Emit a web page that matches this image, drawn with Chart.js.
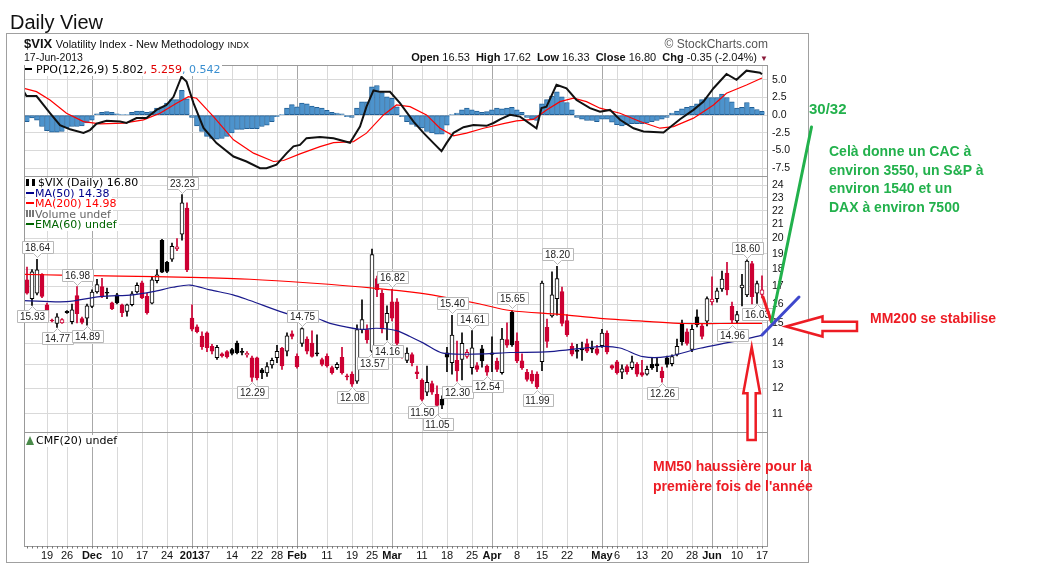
<!DOCTYPE html>
<html><head><meta charset="utf-8">
<script src="https://cdn.jsdelivr.net/npm/chart.js@4.4.1/dist/chart.umd.min.js"></script>
<style>
html,body{margin:0;padding:0;background:#fff;}
#wrap{position:relative;width:1044px;height:575px;overflow:hidden;font-family:"Liberation Sans",Arial,sans-serif;}
canvas{position:absolute;left:0;top:0;}
.t{position:absolute;white-space:nowrap;z-index:5;}
.lg{font-family:"DejaVu Sans",sans-serif;font-size:11px;}
.lg .row{display:block;height:10.5px;line-height:10.5px;}
.lg .bg{background:#fff;display:inline-block;padding-right:2px;}
.dash{display:inline-block;width:8px;height:2px;vertical-align:middle;margin-right:1px;position:relative;top:-1px;}
.ann{position:absolute;white-space:nowrap;font-family:"Liberation Sans",Arial,sans-serif;font-weight:bold;font-size:14px;z-index:6;}
</style></head><body>
<div id="wrap">
<div style="position:absolute;left:6px;top:33px;width:801px;height:528px;border:1px solid #a0a0a0;"></div>
<canvas id="cPPO" width="1044" height="575"></canvas>
<canvas id="cMain" width="1044" height="575"></canvas>
<canvas id="cCMF" width="1044" height="575"></canvas>

<div class="t" style="left:10px;top:10px;font-size:20px;line-height:24px;color:#111;">Daily View</div>
<div class="t" style="left:24px;top:37px;font-size:13px;line-height:14px;color:#111;"><b>$VIX</b> <span style="font-size:11px">Volatility Index - New Methodology</span> <span style="font-size:9px">INDX</span></div>
<div class="t" style="left:24px;top:51px;font-size:10.5px;line-height:12px;color:#111;">17-Jun-2013</div>
<div class="t" style="right:276px;top:37px;font-size:12px;line-height:14px;color:#555;">&copy; StockCharts.com</div>
<div class="t" style="right:276px;top:51px;font-size:11px;line-height:12px;color:#111;"><b>Open</b> 16.53 <b style="margin-left:3px">High</b> 17.62 <b style="margin-left:3px">Low</b> 16.33 <b style="margin-left:3px">Close</b> 16.80 <b style="margin-left:3px">Chg</b> -0.35 (-2.04%) <span style="color:#8b1a3a;font-size:8px;">&#9660;</span></div>

<div class="t lg" style="left:25px;top:64px;line-height:12px;background:#fff;padding-right:2px;"><span class="dash" style="background:#000;width:7px;margin-right:4px;"></span>PPO(12,26,9) 5.802<span style="color:#e00000">, 5.259</span><span style="color:#3a8fd0">, 0.542</span></div>

<div class="t lg" style="left:26px;top:178px;">
 <span class="row"><span class="bg"><span style="display:inline-block;width:9px;height:7px;margin-right:3px;vertical-align:middle;position:relative;top:-1px;background:linear-gradient(90deg,#000 0 3px,transparent 3px 6px,#000 6px 9px);"></span>$VIX (Daily) 16.80</span></span>
 <span class="row"><span class="bg" style="color:#00008b"><span class="dash" style="background:#00008b"></span>MA(50) 14.38</span></span>
 <span class="row"><span class="bg" style="color:#f00"><span class="dash" style="background:#f00"></span>MA(200) 14.98</span></span>
 <span class="row"><span class="bg" style="color:#666"><span style="display:inline-block;width:8px;height:7px;margin-right:1px;vertical-align:middle;position:relative;top:-1px;background:linear-gradient(90deg,#777 0 2px,transparent 2px 3px,#777 3px 5px,transparent 5px 6px,#777 6px 8px);"></span>Volume undef</span></span>
 <span class="row"><span class="bg" style="color:#006400"><span class="dash" style="background:#006400"></span>EMA(60) undef</span></span>
</div>

<div class="t lg" style="left:26px;top:435px;line-height:12px;background:#fff;padding-right:2px;"><span style="display:inline-block;width:0;height:0;border-left:4px solid transparent;border-right:4px solid transparent;border-bottom:9px solid #4a8a4a;margin-right:2px;vertical-align:middle;position:relative;top:-1px;"></span>CMF(20) undef</div>

<div class="ann" style="left:809px;top:100px;font-size:15px;line-height:18px;color:#22b14c;">30/32</div>
<div class="ann" style="left:829px;top:142px;line-height:18.7px;color:#22b14c;">Celà donne un CAC à<br>environ 3550, un S&amp;P à<br>environ 1540 et un<br>DAX à environ 7500</div>
<div class="ann" style="left:870px;top:309px;line-height:18px;color:#ed1c24;">MM200 se stabilise</div>
<div class="ann" style="left:653px;top:456px;line-height:20px;color:#ed1c24;">MM50 haussière pour la<br>première fois de l'année</div>
</div>

<script>
// ---------------- DATA ----------------
const dates = [
'11/13','11/14','11/15','11/16','11/19','11/20','11/21','11/23','11/26','11/27','11/28','11/29','11/30',
'12/03','12/04','12/05','12/06','12/07','12/10','12/11','12/12','12/13','12/14','12/17','12/18','12/19','12/20','12/21','12/24','12/26','12/27','12/28','12/31',
'01/02','01/03','01/04','01/07','01/08','01/09','01/10','01/11','01/14','01/15','01/16','01/17','01/18','01/22','01/23','01/24','01/25','01/28','01/29','01/30','01/31',
'02/01','02/04','02/05','02/06','02/07','02/08','02/11','02/12','02/13','02/14','02/15','02/19','02/20','02/21','02/22','02/25','02/26','02/27','02/28',
'03/01','03/04','03/05','03/06','03/07','03/08','03/11','03/12','03/13','03/14','03/15','03/18','03/19','03/20','03/21','03/22','03/25','03/26','03/27','03/28',
'04/01','04/02','04/03','04/04','04/05','04/08','04/09','04/10','04/11','04/12','04/15','04/16','04/17','04/18','04/19','04/22','04/23','04/24','04/25','04/26','04/29','04/30',
'05/01','05/02','05/03','05/06','05/07','05/08','05/09','05/10','05/13','05/14','05/15','05/16','05/17','05/20','05/21','05/22','05/23','05/24','05/28','05/29','05/30','05/31',
'06/03','06/04','06/05','06/06','06/07','06/10','06/11','06/12','06/13','06/14','06/17'];

const opens = [
17.37,16.30,16.60,17.70,15.96,15.15,14.97,15.00,15.60,15.07,
16.46,15.22,15.25,15.87,16.68,16.98,16.65,16.07,16.51,15.96,
15.60,15.96,16.68,17.20,16.42,16.05,17.32,19.89,18.45,18.64,
19.30,20.30,22.20,15.25,14.80,14.34,14.50,13.85,13.32,13.50,
13.60,13.70,14.00,13.60,13.45,13.32,13.32,12.78,12.65,13.00,
13.32,13.75,13.62,14.45,13.38,13.99,14.20,14.00,13.55,13.24,
13.38,12.88,12.88,13.34,12.52,12.60,12.30,14.66,14.66,13.62,
17.45,16.60,15.00,16.12,16.12,13.55,13.20,13.47,12.70,12.34,
11.84,12.20,11.76,11.56,13.55,13.10,13.20,13.24,13.38,12.88,
12.97,13.73,12.95,13.47,13.17,12.66,14.17,15.55,14.10,13.18,
12.67,12.60,12.60,13.14,14.78,15.36,16.30,16.70,15.12,13.85,
13.65,13.72,13.98,13.75,13.73,13.88,14.49,12.97,13.14,12.68,
12.92,12.88,13.02,12.66,12.60,13.02,13.05,12.73,13.32,13.05,
13.47,14.99,14.55,13.70,15.31,14.85,15.09,16.12,16.30,16.84,
17.78,15.87,15.10,16.90,16.50,18.37,16.60,16.53];
const highs = [
18.15,18.00,18.64,17.75,16.05,15.20,15.48,15.22,15.65,16.00,
16.98,15.30,16.00,16.80,17.40,17.47,16.90,16.10,16.60,16.00,
16.00,16.70,17.20,17.30,16.60,17.58,18.00,19.95,18.50,19.70,
20.00,23.23,22.60,15.96,14.90,14.55,14.55,13.95,13.90,13.55,
13.65,13.75,14.10,13.75,13.60,13.40,13.35,12.85,13.10,13.30,
13.90,13.80,14.50,14.60,13.50,14.75,14.30,14.60,14.40,13.30,
13.50,12.95,13.10,13.80,12.60,12.70,14.90,16.23,14.90,19.30,
17.60,16.80,15.90,16.82,16.30,13.70,13.78,13.55,12.95,12.40,
12.95,12.30,12.10,11.70,13.80,15.40,14.10,14.50,13.70,14.61,
13.10,13.90,13.00,14.30,13.30,14.73,15.00,15.65,14.50,13.50,
12.80,12.75,12.70,17.30,15.20,17.86,18.20,16.95,15.43,14.00,
13.95,14.05,14.20,14.10,13.90,14.68,14.60,13.00,13.20,13.00,
13.00,13.40,13.10,13.20,12.95,13.30,13.30,12.90,13.40,13.45,
14.20,15.15,14.70,14.90,15.69,14.95,16.40,17.55,16.90,17.90,
18.45,16.10,15.60,17.70,18.60,18.50,17.30,17.62];
const lows = [
16.55,15.93,16.50,16.35,15.15,15.05,14.77,14.98,15.50,14.95,
15.00,14.95,14.89,15.80,16.60,16.35,16.30,15.69,16.00,15.32,
15.35,15.90,16.60,16.30,15.45,16.00,17.20,17.80,17.80,18.50,
19.20,19.90,17.86,14.60,14.50,13.70,13.60,13.50,13.25,13.35,
13.30,13.45,13.50,13.45,13.35,12.29,12.35,12.40,12.50,12.85,
13.10,12.80,13.40,14.20,12.85,13.85,13.50,13.35,13.40,12.95,
12.90,12.60,12.80,12.60,12.35,12.08,12.20,14.50,14.00,13.57,
16.40,14.50,14.16,15.10,13.90,13.30,13.10,12.95,12.40,11.50,
11.70,11.75,11.05,11.20,12.70,12.60,12.30,12.35,13.30,12.60,
12.70,12.90,12.54,12.70,12.70,12.60,13.80,13.85,13.10,12.80,
12.30,12.20,11.99,12.75,13.80,15.30,15.40,14.85,14.33,13.40,
13.30,13.20,13.55,13.55,13.45,13.80,13.50,12.80,12.60,12.40,
12.60,12.80,12.50,12.50,12.55,12.80,12.70,12.26,12.90,12.95,
13.40,13.90,13.90,13.60,14.80,14.20,14.85,15.95,16.10,16.70,
16.50,14.96,15.00,15.90,16.40,16.00,16.03,16.33];
const closes = [
16.60,17.86,17.98,16.42,15.25,15.10,15.32,15.17,15.53,15.69,
15.48,15.03,15.90,16.66,17.10,16.40,16.60,15.75,16.06,15.54,
15.96,16.56,17.05,16.34,15.53,17.37,17.68,17.84,17.88,19.48,
19.45,22.60,17.98,14.68,14.56,13.83,13.79,13.62,13.80,13.40,
13.36,13.52,13.55,13.57,13.52,12.46,12.43,12.66,12.92,13.20,
13.62,12.95,14.36,14.32,12.92,14.71,13.62,13.38,13.50,13.02,
12.95,12.66,13.02,12.66,12.48,12.17,14.66,15.17,14.17,18.94,
16.80,14.70,15.50,15.25,13.99,13.47,13.53,13.10,12.62,11.56,
12.25,11.84,11.32,11.33,13.35,14.39,12.73,13.99,13.57,13.78,
12.80,13.18,12.68,13.55,12.80,14.20,13.90,13.92,13.18,12.88,
12.37,12.30,12.06,17.18,14.08,16.51,17.45,14.98,14.41,13.48,
13.61,13.68,13.62,13.71,13.52,14.49,13.59,12.85,12.66,12.83,
12.70,13.14,12.59,12.55,12.80,12.88,12.95,12.45,13.02,13.37,
13.85,14.07,13.99,14.68,14.91,14.33,16.30,16.27,16.74,17.42,
16.79,15.14,15.44,17.07,18.52,16.41,17.15,16.80];

// PPO histogram, one bar per day
const ppoHist = [
-0.9,-0.4,-0.7,-1.6,-2.2,-2.4,-2.4,-2.3,-1.8,-1.6,
-1.6,-1.5,-1.1,-0.7,0.2,0.4,0.5,0.4,0.2,0.05,
0.05,0.4,0.6,0.6,0.4,0.5,1.0,1.2,1.7,2.2,
2.2,3.5,2.3,-0.3,-1.5,-2.3,-3.0,-3.3,-3.4,-3.3,
-3.0,-2.5,-2.0,-2.0,-1.9,-1.9,-1.9,-1.6,-1.4,-0.9,
-0.2,0.1,1.0,1.5,1.2,1.7,1.6,1.3,1.1,1.0,
0.7,0.4,0.3,0.2,-0.2,-0.3,1.0,1.9,1.9,4.0,
4.2,3.2,2.6,2.4,1.2,-0.2,-0.9,-1.3,-1.6,-1.8,
-2.3,-2.5,-2.7,-2.7,-1.4,0.05,0.3,0.75,1.0,0.75,
0.6,0.4,0.5,0.75,1.0,0.9,1.0,1.1,0.75,0.4,
-0.3,-0.55,-0.75,1.6,2.2,2.7,3.3,2.6,1.8,0.75,
-0.3,-0.55,-0.75,-0.75,-0.9,-0.55,-0.55,-1.0,-1.35,-1.5,
-1.35,-1.2,-1.2,-1.2,-1.1,-0.9,-0.75,-0.55,-0.3,0.3,
0.6,0.9,1.1,1.3,1.6,2.2,2.5,2.5,2.5,3.0,
2.5,1.9,1.0,1.1,1.8,1.1,0.8,0.55];

// PPO line and signal line, read at positions along the day axis
const ppoPos = [-0.6,-0.1,1.9,4.6,6.6,8.6,11.3,12.6,13.9,15.9,18.6,19.9,21.9,23.9,25.9,27.9,29.3,30.9,31.9,33.3,35.3,37.9,41.3,43.9,46.6,47.9,49.9,51.9,53.3,54.6,55.9,58.6,61.3,64.6,66.6,67.9,69.3,70.6,72.6,74.6,77.3,79.3,81.3,82.9,83.9,85.3,87.3,89.3,91.9,93.3,94.6,96.6,98.6,101.9,102.9,103.9,105.9,107.9,109.9,112.6,114.6,116.6,118.6,121.3,123.3,127.3,130.6,133.3,135.3,137.3,139.9,141.9,143.9,146.6,147];
const ppoVal = [3.3,2.7,2.7,0.3,-1.4,-2.0,-2.5,-2.1,-1.2,-0.8,-0.9,-1.1,-0.4,-0.4,0.75,1.45,2.6,5.45,4.75,1.7,-1.8,-3.95,-5.85,-6.55,-7.5,-7.5,-7.0,-5.4,-4.4,-4.2,-3.25,-3.1,-3.25,-3.9,-1.6,1.2,3.5,3.3,3.3,1.7,-0.9,-2.5,-3.95,-5.1,-3.95,-2.5,-1.7,-1.4,-1.5,-1.1,-0.6,0.05,-0.2,-1.85,1.0,1.2,4.3,3.8,2.15,1.0,0.5,0.75,-0.65,-1.85,-2.3,-2.45,-0.57,0.75,1.92,3.81,5.83,5.0,6.3,6.02,5.8];
const sigPos = [-0.6,1.9,4.6,7.9,11.3,14.6,19.3,23.3,26.6,29.9,32.3,33.9,37.3,41.3,45.3,49.3,51.3,54.6,58.6,61.3,65.3,67.9,71.3,73.9,76.6,79.9,82.6,85.3,87.9,91.3,95.3,97.9,101.3,103.9,106.6,109.3,111.9,114.6,118.6,122.6,126.6,129.3,133.3,137.3,139.9,143.9,147];
const sigVal = [3.81,3.33,2.16,0.28,-0.9,-1.23,-1.13,-0.66,0.28,1.69,2.63,2.4,-0.2,-3.49,-5.37,-6.55,-6.41,-5.47,-4.44,-3.87,-3.73,-2.54,0.04,1.45,1.21,0.04,-1.84,-2.92,-2.54,-1.84,-1.2,-0.8,-0.6,0.75,1.92,2.4,1.92,0.99,0.28,-0.9,-1.84,-1.61,-0.42,1.45,3.11,4.28,5.26];

// moving averages, read at positions along the day axis
const ma50Pos = [-0.6,7.9,14.6,21.2,25.2,29.2,32.6,36.6,41.2,44.6,52.6,57.9,60.6,66.6,69.9,73.9,76.6,79.3,83.2,91.2,96.6,104.6,114.6,118.6,123.2,128.0,134.6,141.2,147];
const ma50Val = [16.19,16.13,16.41,16.51,16.69,16.94,17.07,16.79,16.51,16.19,15.43,15.24,14.98,14.68,14.73,14.61,14.32,14.00,13.53,13.50,13.56,13.60,13.84,13.77,13.37,13.37,13.76,14.07,14.38];
const ma200Pos = [-0.6,6.6,18.6,32.6,44.6,56.6,69.8,78.6,84.6,90.6,96.6,106.6,114.6,124.6,131.2,138.6,147];
const ma200Val = [17.70,17.66,17.60,17.52,17.41,17.19,16.88,16.60,16.32,16.00,15.65,15.44,15.24,15.07,14.97,14.97,14.98];

// x-axis tick labels
const tickDates = ['11/19','11/26','12/03','12/10','12/17','12/24','01/02','01/07','01/14','01/22','01/28','02/01','02/11','02/19','02/25','03/01','03/11','03/18','03/25','04/01','04/08','04/15','04/22','05/01','05/06','05/13','05/20','05/28','06/03','06/10','06/17'];
const tickLabels = ['19','26','Dec','10','17','24','2013','7','14','22','28','Feb','11','19','25','Mar','11','18','25','Apr','8','15','22','May','6','13','20','28','Jun','10','17'];
const majorLabels = ['Dec','2013','Feb','Mar','Apr','May','Jun'];
const priceTicks = [11,12,13,14,15,16,17,18,19,20,21,22,23,24];
const ppoTicks = [-7.5,-5,-2.5,0,2.5,5];

// high / low tags
const tagDates = ['11/15','11/14','11/21','11/28','11/30','12/28','01/18','02/04','02/19','02/25','02/28','03/01','03/11','03/14','03/19','03/20','03/25','03/28','04/05','04/12','04/18','05/17','06/07','06/12','06/14'];
const tagSide  = ['H','L','L','H','L','H','L','H','L','L','L','H','L','L','H','L','H','L','H','L','H','L','L','H','L'];

// ---------------- CHARTS ----------------
const FONT = '"Liberation Sans", Arial, sans-serif';
Chart.defaults.font.family = FONT;
const X_MIN = -0.6, X_MAX = 148.2;
const tickPos = tickDates.map(d => dates.indexOf(d));
const labelAt = v => { const k = tickPos.indexOf(v); return k >= 0 ? tickLabels[k] : ''; };
const isMajor = v => { const k = tickPos.indexOf(v); return k >= 0 && majorLabels.includes(tickLabels[k]); };
const RED = '#cc0033', BLK = '#000000';
const candleColor = closes.map((c, i) => c < (i > 0 ? closes[i - 1] : opens[i]) ? RED : BLK);
const candleFill = closes.map((c, i) => c < opens[i] ? candleColor[i] : '#ffffff');

function xAxis(show) {
  return {
    type: 'linear', min: X_MIN, max: X_MAX, offset: false,
    afterBuildTicks(s) { s.ticks = tickPos.map(v => ({ value: v })); },
    afterFit(s) { s.height = show ? 16 : 0; },
    ticks: {
      display: show, autoSkip: false, maxRotation: 0, minRotation: 0, padding: 3, color: '#111',
      font: ctx => ({ family: FONT, size: 11, weight: (ctx.tick && isMajor(ctx.tick.value)) ? 'bold' : 'normal' }),
      callback: v => labelAt(v)
    },
    grid: { offset: false, drawTicks: false, lineWidth: 1,
      color: ctx => (ctx.tick && isMajor(ctx.tick.value)) ? '#a8a8a8' : '#d9d9d9' },
    border: { display: false }
  };
}
function yAxisCommon(extra) {
  return Object.assign({
    position: 'right',
    afterFit(s) { s.width = 40; },
    grid: { color: '#d9d9d9', drawTicks: false },
    border: { display: false },
    ticks: { color: '#111', padding: 4, font: { family: FONT, size: 10.5 } }
  }, extra);
}
const panelBorder = {
  id: 'panelBorder',
  afterDraw(chart) {
    const { ctx, chartArea: a } = chart;
    ctx.save(); ctx.strokeStyle = '#999'; ctx.lineWidth = 1;
    ctx.strokeRect(Math.round(a.left) + 0.5, Math.round(a.top) + 0.5, Math.round(a.right - a.left) - 1, Math.round(a.bottom - a.top));
    ctx.restore();
  }
};
const baseOpts = (top, bottom) => ({
  responsive: false, animation: false, events: [],
  layout: { padding: { left: 24, right: 236, top: top, bottom: bottom } },
  plugins: { legend: { display: false }, tooltip: { enabled: false } }
});

// PPO panel
new Chart(document.getElementById('cPPO'), {
  type: 'bar',
  data: { datasets: [
    { type: 'line', data: ppoPos.map((p, k) => ({ x: p, y: ppoVal[k] })), borderColor: '#111', borderWidth: 2, pointRadius: 0, tension: 0, order: 0 },
    { type: 'line', data: sigPos.map((p, k) => ({ x: p, y: sigVal[k] })), borderColor: '#ff0000', borderWidth: 1.2, pointRadius: 0, tension: 0, order: 1 },
    { type: 'bar', data: ppoHist.map((v, i) => ({ x: i, y: v })), backgroundColor: '#4d93cc', borderColor: '#215f96',
      borderWidth: { top: 1, left: 1, bottom: 1, right: 0 }, borderSkipped: false, barThickness: 5, grouped: false, order: 2 }
  ]},
  options: Object.assign(baseOpts(65, 575 - 176), {
    scales: {
      x: xAxis(false),
      y: yAxisCommon({ type: 'linear', min: -8.6, max: 7.1,
        afterBuildTicks(s) { s.ticks = ppoTicks.map(v => ({ value: v })); },
        ticks: { color: '#111', padding: 4, font: { family: FONT, size: 10.5 }, callback: v => v.toFixed(1) } })
    }
  }),
  plugins: [panelBorder]
});

// Price panel
const tagPlugin = {
  id: 'tags',
  afterDraw(chart) {
    const { ctx } = chart; const xs = chart.scales.x, ys = chart.scales.y;
    ctx.save();
    ctx.font = '10px ' + FONT;
    tagDates.forEach((d, k) => {
      const i = dates.indexOf(d); const above = tagSide[k] === 'H';
      const v = above ? highs[i] : lows[i];
      const txt = v.toFixed(2);
      const px = Math.round(xs.getPixelForValue(i)) + 0.5, py = ys.getPixelForValue(v);
      const w = Math.ceil(ctx.measureText(txt).width) + 5, h = 12, ph = 4;
      const bx = Math.round(px - w / 2) + 0.5;
      const by = above ? Math.round(py - 2 - ph - h) + 0.5 : Math.round(py + 1 + ph) + 0.5;
      ctx.beginPath();
      if (above) {
        ctx.moveTo(bx, by); ctx.lineTo(bx + w, by); ctx.lineTo(bx + w, by + h); ctx.lineTo(px + 4, by + h);
        ctx.lineTo(px, by + h + ph); ctx.lineTo(px - 4, by + h); ctx.lineTo(bx, by + h); ctx.closePath();
      } else {
        ctx.moveTo(bx, by); ctx.lineTo(px - 4, by); ctx.lineTo(px, by - ph); ctx.lineTo(px + 4, by);
        ctx.lineTo(bx + w, by); ctx.lineTo(bx + w, by + h); ctx.lineTo(bx, by + h); ctx.closePath();
      }
      ctx.fillStyle = '#fff'; ctx.fill(); ctx.strokeStyle = '#b8b8b8'; ctx.lineWidth = 1; ctx.stroke();
      ctx.fillStyle = '#222'; ctx.textAlign = 'center'; ctx.textBaseline = 'middle';
      ctx.fillText(txt, px, by + h / 2 + 0.5);
    });
    ctx.restore();
  }
};
new Chart(document.getElementById('cMain'), {
  type: 'bar',
  data: { datasets: [
    { type: 'line', data: ma50Pos.map((p, k) => ({ x: p, y: ma50Val[k] })), borderColor: '#1a1a8c', borderWidth: 1.2, pointRadius: 0, tension: 0.3, order: 0 },
    { type: 'line', data: ma200Pos.map((p, k) => ({ x: p, y: ma200Val[k] })), borderColor: '#ff0000', borderWidth: 1.2, pointRadius: 0, tension: 0.3, order: 0 },
    { type: 'bar', data: dates.map((d, i) => ({ x: i, y: [opens[i], closes[i]] })), backgroundColor: candleFill, borderColor: candleColor,
      borderWidth: 1, borderSkipped: false, barThickness: 4, grouped: false, minBarLength: 1, order: 1 },
    { type: 'bar', data: dates.map((d, i) => ({ x: i, y: [lows[i], highs[i]] })), backgroundColor: candleColor,
      borderWidth: 0, barThickness: 1, grouped: false, order: 2 }
  ]},
  options: Object.assign(baseOpts(176, 575 - 432), {
    scales: {
      x: xAxis(false),
      y: yAxisCommon({ type: 'logarithmic', min: 10.34, max: 24.76,
        afterBuildTicks(s) { s.ticks = priceTicks.map(v => ({ value: v })); },
        ticks: { color: '#111', padding: 4, font: { family: FONT, size: 10.5 }, callback: v => String(v) } })
    }
  }),
  plugins: [panelBorder, tagPlugin]
});

// CMF panel with date axis + hand-drawn annotations on top
const overlay = {
  id: 'overlay',
  afterDraw(chart) {
    const c = chart.ctx, xs = chart.scales.x, a = chart.chartArea;
    c.save();
    c.strokeStyle = '#777'; c.lineWidth = 1;
    dates.forEach((d, i) => { const px = Math.round(xs.getPixelForValue(i)) + 0.5; c.beginPath(); c.moveTo(px, a.bottom); c.lineTo(px, a.bottom + 2.5); c.stroke(); });
    const seg = (x1, y1, x2, y2, col, w) => { c.beginPath(); c.moveTo(x1, y1); c.lineTo(x2, y2); c.strokeStyle = col; c.lineWidth = w; c.lineCap = 'round'; c.stroke(); };
    seg(763, 297, 771.5, 322, '#ed1c24', 3);
    seg(771.5, 322, 811.5, 127, '#22b14c', 3);
    seg(762, 335, 799, 297, '#3f48cc', 3);
    c.lineJoin = 'miter';
    c.beginPath();
    c.moveTo(786, 326.5); c.lineTo(822.5, 316.5); c.lineTo(822.5, 321.8); c.lineTo(857, 321.8);
    c.lineTo(857, 331); c.lineTo(822.5, 331); c.lineTo(822.5, 336.5); c.closePath();
    c.fillStyle = '#fff'; c.fill(); c.strokeStyle = '#ed1c24'; c.lineWidth = 2.5; c.stroke();
    c.beginPath();
    c.moveTo(751.7, 347); c.lineTo(760, 393.3); c.lineTo(755.7, 393.3); c.lineTo(755.7, 440);
    c.lineTo(747.5, 440); c.lineTo(747.5, 393.3); c.lineTo(743.3, 393.3); c.closePath();
    c.fillStyle = '#fff'; c.fill(); c.strokeStyle = '#ed1c24'; c.lineWidth = 2.5; c.stroke();
    c.restore();
  }
};
new Chart(document.getElementById('cCMF'), {
  type: 'line',
  data: { datasets: [] },
  options: Object.assign(baseOpts(432, 575 - 546 - 16), {
    scales: {
      x: xAxis(true),
      y: { type: 'linear', position: 'right', min: 0, max: 1, afterFit(s) { s.width = 40; },
        ticks: { display: false }, grid: { display: false }, border: { display: false } }
    }
  }),
  plugins: [panelBorder, overlay]
});
</script>
</body></html>
